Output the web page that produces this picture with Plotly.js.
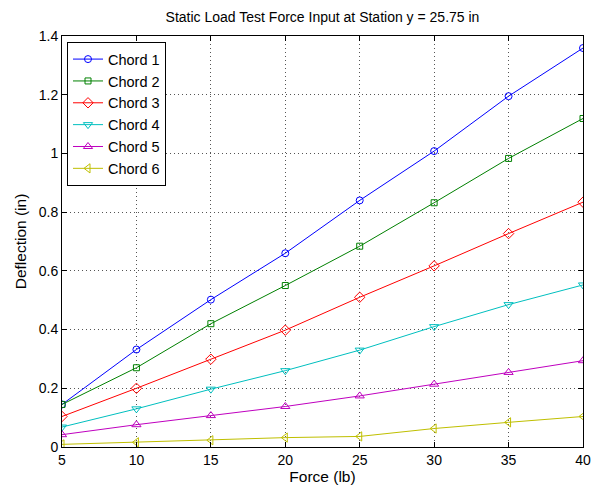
<!DOCTYPE html>
<html>
<head>
<meta charset="utf-8">
<script src="https://cdn.plot.ly/plotly-3.0.1.min.js"></script>
<style>html,body{margin:0;padding:0;background:#fff;}#chart{width:600px;height:486px;}</style>
</head>
<body>
<div id="chart"></div>
<script>
const force = [5, 10, 15, 20, 25, 30, 35, 40];
const chord1 = [0.145, 0.332, 0.502, 0.660, 0.840, 1.008, 1.195, 1.359];
const chord2 = [0.145, 0.270, 0.420, 0.550, 0.684, 0.832, 0.983, 1.119];
const chord3 = [0.104, 0.200, 0.299, 0.398, 0.510, 0.617, 0.727, 0.834];
const chord4 = [0.068, 0.130, 0.197, 0.260, 0.330, 0.410, 0.485, 0.552];
const chord5 = [0.042, 0.076, 0.107, 0.138, 0.174, 0.214, 0.254, 0.294];
const chord6 = [0.009, 0.016, 0.023, 0.032, 0.036, 0.063, 0.084, 0.104];
const seriesNames = ['Chord 1', 'Chord 2', 'Chord 3', 'Chord 4', 'Chord 5', 'Chord 6'];
const seriesValues = [chord1, chord2, chord3, chord4, chord5, chord6];
const colors = ['#0000ff', '#008000', '#ff0000', '#00bfbf', '#bf00bf', '#bfbf00'];
const symbols = ['circle-open', 'square-open', 'diamond-open', 'triangle-down-open', 'triangle-up-open', 'triangle-left-open'];
const sizes = [7, 6, 8, 8, 8, 8];

const traces = seriesValues.map((vals, i) => ({
  x: force, y: vals, name: seriesNames[i], type: 'scatter', mode: 'lines+markers',
  line: {color: colors[i], width: 1},
  marker: {symbol: symbols[i], size: sizes[i], color: colors[i], line: {color: colors[i], width: 1}}
}));

const axisCommon = {
  showline: true, mirror: 'ticks', linecolor: '#000', linewidth: 1,
  ticks: 'inside', ticklen: 5, tickcolor: '#000',
  showgrid: true, gridcolor: '#555', griddash: '1px,3px', gridwidth: 1,
  zeroline: false, tickfont: {size: 14, color: '#000'}
};

const layout = {
  width: 600, height: 486,
  margin: {l: 62, r: 17, t: 36, b: 39},
  paper_bgcolor: '#fff', plot_bgcolor: '#fff',
  font: {family: 'Liberation Sans, Arial, sans-serif', color: '#000'},
  title: {text: 'Static Load Test Force Input at Station y = 25.75 in', font: {size: 14}, x: 0.5375, xanchor: 'center', y: 0.965, yanchor: 'middle'},
  xaxis: Object.assign({}, axisCommon, {range: [5, 40], tickvals: [5, 10, 15, 20, 25, 30, 35, 40],
    title: {text: 'Force (lb)', font: {size: 15.5}, standoff: 2}}),
  yaxis: Object.assign({}, axisCommon, {range: [0, 1.4], tickvals: [0, 0.2, 0.4, 0.6, 0.8, 1, 1.2, 1.4],
    title: {text: 'Deflection (in)', font: {size: 15.5}, standoff: 8}}),
  showlegend: true,
  legend: {x: 0.0096, y: 0.985, xanchor: 'left', yanchor: 'top', bgcolor: '#fff', bordercolor: '#000', borderwidth: 1,
    font: {size: 14.5}, tracegroupgap: 0, itemwidth: 30}
};

Plotly.newPlot('chart', traces, layout, {displayModeBar: false, staticPlot: true});
</script>
</body>
</html>
